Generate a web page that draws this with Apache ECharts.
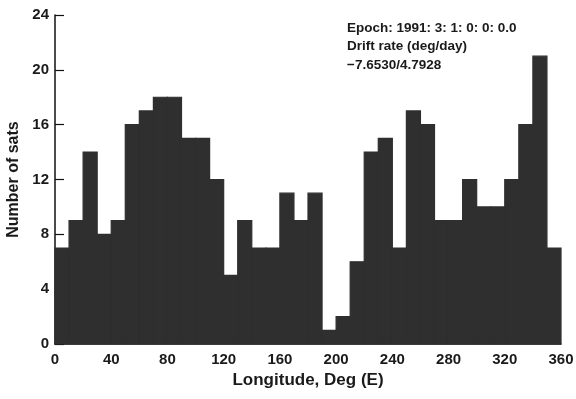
<!DOCTYPE html>
<html>
<head>
<meta charset="utf-8">
<script src="https://cdn.jsdelivr.net/npm/echarts@6/dist/echarts.min.js"></script>
<style>html,body{margin:0;padding:0;background:#fff}#c{width:576px;height:399px}</style>
</head>
<body>
<div id="c"></div>
<script>
var binStarts = [0,10,20,30,40,50,60,70,80,90,100,110,120,130,140,150,160,170,180,190,200,210,220,230,240,250,260,270,280,290,300,310,320,330,340,350];
var binWidth = 10;
var counts = [7,9,14,8,9,16,17,18,18,15,15,12,5,9,7,7,11,9,11,1,2,6,14,15,7,17,16,9,9,12,10,10,12,16,21,7];
var xTicks = [0,40,80,120,160,200,240,280,320,360];
var yTicks = [0,4,8,12,16,20,24];
var noteLines = ['Epoch: 1991: 3: 1: 0: 0: 0.0', 'Drift rate (deg/day)', '\u22127.6530/4.7928'];

var data = binStarts.map(function(s, i){ return [s, s + binWidth, counts[i]]; });
var chart = echarts.init(document.getElementById('c'));
var font = 'Liberation Sans, Arial, sans-serif';
chart.setOption({
  animation: false,
  grid: {left: 55, right: 15, top: 15, bottom: 55, containLabel: false, outerBoundsMode: 'none'},
  xAxis: {
    type: 'value', min: 0, max: 360, interval: 40,
    name: 'Longitude, Deg (E)', nameLocation: 'middle', nameGap: 28,
    nameTextStyle: {fontFamily: font, fontWeight: 'bold', fontSize: 17, color: '#1a1a1a'},
    axisLine: {show: true, lineStyle: {color: '#111', width: 1.5}},
    axisTick: {show: false},
    splitLine: {show: false},
    axisLabel: {fontFamily: font, fontWeight: 'bold', fontSize: 15, color: '#1a1a1a', margin: 8, hideOverlap: false}
  },
  yAxis: {
    type: 'value', min: 0, max: 24, interval: 4,
    name: 'Number of sats', nameLocation: 'middle', nameGap: 32,
    nameTextStyle: {fontFamily: font, fontWeight: 'bold', fontSize: 16, color: '#1a1a1a'},
    axisLine: {show: true, lineStyle: {color: '#111', width: 1.5}},
    axisTick: {show: true, inside: true, length: 9, lineStyle: {color: '#111', width: 1.2}},
    splitLine: {show: false},
    axisLabel: {fontFamily: font, fontWeight: 'bold', fontSize: 15, color: '#1a1a1a', margin: 6}
  },
  series: [{
    type: 'custom',
    data: data,
    renderItem: function(params, api){
      var p0 = api.coord([api.value(0), api.value(2)]);
      var p1 = api.coord([api.value(1), 0]);
      return {
        type: 'rect',
        shape: {x: p0[0], y: p0[1], width: p1[0] - p0[0], height: p1[1] - p0[1]},
        style: {fill: '#2f2f2f', stroke: '#2f2f2f', lineWidth: 1.2}
      };
    },
    encode: {x: [0, 1], y: 2}
  }],
  graphic: noteLines.map(function(t, i){
    return {type: 'text', left: 347, top: 21 + i * 18.5,
      style: {text: t, fontFamily: font, fontWeight: 'bold', fontSize: 13.5, fill: '#1a1a1a'}};
  })
});
</script>
</body>
</html>
